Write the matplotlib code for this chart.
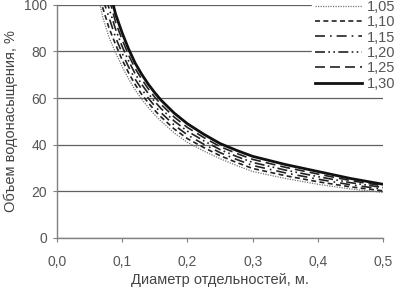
import matplotlib
matplotlib.use("Agg")
import matplotlib.pyplot as plt

plt.rcParams["font.family"] = ["Liberation Sans", "DejaVu Sans"]

# diameter of blocks, m
diam = [0.06, 0.07, 0.08, 0.09, 0.10, 0.11, 0.12, 0.13, 0.14, 0.15, 0.16,
        0.18, 0.20, 0.225, 0.25, 0.275, 0.30, 0.35, 0.40, 0.45, 0.50]

# water saturation volume, % (one list per coefficient)
v105 = [108, 95, 86, 79.5, 73.5, 68.2, 63.5, 59.5, 56, 52.8, 50, 45, 41, 37.3, 34, 31.1, 28.5, 25.5, 23, 21, 19.5]
v110 = [111, 99, 90, 83, 76.4, 70.8, 65.8, 61.6, 58, 54.7, 51.8, 46.7, 42.6, 38.8, 35.3, 32.4, 29.8, 26.7, 24.1, 21.9, 20.2]
v115 = [115, 103, 94.5, 86, 79.3, 73.3, 68.1, 63.8, 60, 56.6, 53.6, 48.4, 44.2, 40.2, 36.6, 33.7, 31.1, 27.9, 25.2, 22.8, 20.9]
v120 = [118, 107, 98.5, 89.5, 82.2, 75.9, 70.4, 65.9, 62, 58.5, 55.4, 50.1, 45.8, 41.7, 37.9, 35, 32.4, 29.1, 26.3, 23.7, 21.6]
v125 = [122, 111, 103, 92.5, 85.1, 78.4, 72.7, 68.1, 64, 60.4, 57.2, 51.8, 47.4, 43.1, 39.2, 36.3, 33.7, 30.3, 27.4, 24.6, 22.3]
v130 = [125, 115, 107, 96, 88, 81, 75, 70.2, 66, 62.3, 59, 53.5, 49, 44.5, 40.5, 37.6, 35, 31.5, 28.5, 25.5, 23]

labels = ["1,05", "1,10", "1,15", "1,20", "1,25", "1,30"]
series = [v105, v110, v115, v120, v125, v130]

styles = [
    dict(color="#777777", lw=0.9, dashes=(1, 1)),
    dict(color="#222222", lw=1.2, dashes=(3, 2)),
    dict(color="#222222", lw=1.2, dashes=(6, 3, 1, 3)),
    dict(color="#222222", lw=1.2, dashes=(6, 2, 1, 2, 1, 2)),
    dict(color="#222222", lw=1.2, dashes=(6, 3)),
    dict(color="#111111", lw=2.0),
]

fig = plt.figure(figsize=(3.95, 2.88), dpi=100)
ax = fig.add_axes([0.144, 0.174, 0.826, 0.809])

for vals, lab, st in zip(series, labels, styles):
    ax.plot(diam, vals, label=lab, **st)

ax.set_xlim(0, 0.5)
ax.set_ylim(0, 100)
ax.set_xticks([0, 0.1, 0.2, 0.3, 0.4, 0.5])
ax.set_xticklabels(["0,0", "0,1", "0,2", "0,3", "0,4", "0,5"])
ax.set_yticks([0, 20, 40, 60, 80, 100])
ax.yaxis.grid(True, color="#606060", lw=0.9)
ax.set_axisbelow(True)

for s in ("top", "right"):
    ax.spines[s].set_visible(False)
for s in ("left", "bottom"):
    ax.spines[s].set_color("#808080")
    ax.spines[s].set_linewidth(1.0)

ax.tick_params(axis="both", length=3, color="#808080", labelsize=10,
               labelcolor="#555555", pad=4)
ax.tick_params(axis="x", pad=9)

ax.set_xlabel("Диаметр отдельностей, м.", fontsize=10.5, color="#444444", labelpad=3)
ax.set_ylabel("Объем водонасыщения, %", fontsize=10.5, color="#444444", labelpad=4)

leg = ax.legend(loc="upper right", bbox_to_anchor=(1.045, 1.035), frameon=True,
                fontsize=10.5, handlelength=3.2, handletextpad=0.3,
                labelspacing=0.1, borderpad=0.2, borderaxespad=0.0)
leg.get_frame().set_facecolor("white")
leg.get_frame().set_edgecolor("white")
leg.get_frame().set_alpha(1.0)
for t in leg.get_texts():
    t.set_color("#555555")

fig.savefig("out.png", dpi=100)
